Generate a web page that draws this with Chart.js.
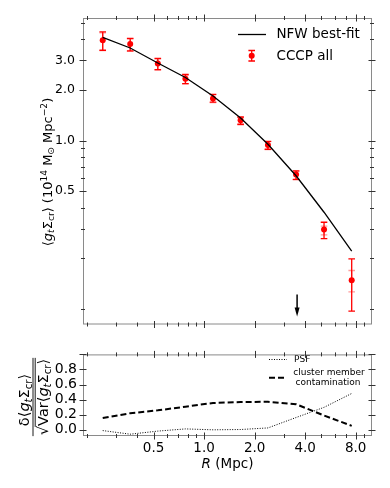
<!DOCTYPE html>
<html>
<head>
<meta charset="utf-8">
<script src="https://cdn.jsdelivr.net/npm/chart.js@4"></script>
<style>
  html, body { margin: 0; padding: 0; background: #fff; }
  canvas { position: absolute; left: 0; }
  #topChart { top: 0; }
  #botChart { top: 340px; }
</style>
</head>
<body>
<canvas id="topChart" width="390" height="340"></canvas>
<canvas id="botChart" width="390" height="148"></canvas>
<script>
// bin centres (Mpc)
const radius = [0.249, 0.363, 0.53, 0.774, 1.13, 1.65, 2.40, 3.53, 5.18, 7.57];
// stacked shear profile, CCCP all
const shear   = [3.94, 3.75, 2.87, 2.33, 1.78, 1.32, 0.942, 0.629, 0.296, 0.148];
const errHi   = [4.43, 4.05, 3.08, 2.47, 1.88, 1.38, 0.99, 0.661, 0.327, 0.198];
const errLo   = [3.44, 3.41, 2.64, 2.18, 1.69, 1.25, 0.888, 0.588, 0.261, 0.097];
// second (lighter) error estimate
const sysHi   = [4.36, 4.01, 3.05, 2.45, 1.87, 1.37, 0.985, 0.657, 0.31, 0.169];
const sysLo   = [3.42, 3.39, 2.62, 2.17, 1.68, 1.24, 0.884, 0.585, 0.275, 0.126];
// NFW best fit
const nfw     = [4.10, 3.55, 2.89, 2.37, 1.84, 1.36, 0.95, 0.618, 0.375, 0.220];
// arrow marker (R, y from -> to)
const arrowR = 3.58, arrowFrom = 0.1215, arrowTo = 0.090;
// lower panel: systematics relative to scatter
const psf     = [-0.01, -0.058, -0.017, 0.012, 0.0, 0.004, 0.025, 0.163, 0.298, 0.482];
const contam  = [0.156, 0.22, 0.258, 0.307, 0.356, 0.368, 0.372, 0.339, 0.19, 0.053];

const xLabels = [0.5, 1, 2, 4, 8];
const xMinor = [0.2, 0.3, 0.4, 0.6, 0.7, 0.8, 0.9, 3, 5, 6, 7, 9];
const yTopLabels = [0.5, 1, 2, 3];
const yTopMinor = [0.1, 0.2, 0.3, 0.4, 0.6, 0.7, 0.8, 0.9, 4, 5];
const yBotLabels = [0, 0.2, 0.4, 0.6, 0.8];

Chart.defaults.font.family = "'DejaVu Sans', sans-serif";
Chart.defaults.color = '#000';

const FONT = "'DejaVu Sans', sans-serif";

// draw a run of text pieces (normal / italic / sub / sup)
function setFont(ctx, s, size) {
  const small = s.includes('sub') || s.includes('sup');
  ctx.font = (s.startsWith('i') ? 'italic ' : '') + (small ? size * 0.7 : size) + 'px ' + FONT;
}
function richWidth(ctx, parts, size) {
  let w = 0;
  parts.forEach(([t, s]) => { setFont(ctx, s, size); w += ctx.measureText(t).width; });
  return w;
}
function drawRich(ctx, parts, x, y, size) {
  let cx = x;
  parts.forEach(([t, s]) => {
    setFont(ctx, s, size);
    let dy = 0;
    if (s.includes('sub')) dy = size * 0.22;
    if (s.includes('sup')) dy = -size * 0.38;
    ctx.fillText(t, cx, y + dy);
    cx += ctx.measureText(t).width;
  });
  return cx;
}

// frame + matplotlib style ticks on all four sides
function frameTicks(xMaj, xMin, yMaj, yMin) {
  return {
    id: 'frameTicks',
    afterDraw(chart) {
      const { ctx, chartArea: a, scales: { x, y } } = chart;
      ctx.save();
      ctx.strokeStyle = '#8a8a8a';
      ctx.lineWidth = 1;
      ctx.strokeRect(a.left + 0.5, a.top + 0.5, a.right - a.left - 1, a.bottom - a.top - 1);
      ctx.strokeStyle = '#333';
      const xt = (v, L) => {
        const p = Math.round(x.getPixelForValue(v)) + 0.5;
        if (p < a.left || p > a.right) return;
        ctx.beginPath();
        ctx.moveTo(p, a.bottom - L); ctx.lineTo(p, a.bottom + L);
        ctx.moveTo(p, a.top - L); ctx.lineTo(p, a.top + L);
        ctx.stroke();
      };
      const yt = (v, L) => {
        const p = Math.round(y.getPixelForValue(v)) + 0.5;
        if (p < a.top || p > a.bottom) return;
        ctx.beginPath();
        ctx.moveTo(a.left - L, p); ctx.lineTo(a.left + L, p);
        ctx.moveTo(a.right - L, p); ctx.lineTo(a.right + L, p);
        ctx.stroke();
      };
      xMaj.forEach(v => xt(v, 3.5)); xMin.forEach(v => xt(v, 2));
      yMaj.forEach(v => yt(v, 3.5)); yMin.forEach(v => yt(v, 2));
      ctx.restore();
    }
  };
}

const G = [['⟨', ''], ['g', 'i'], ['t', 'isub'], ['Σ', ''], ['cr', 'sub'], ['⟩', '']];

const topDecor = {
  id: 'topDecor',
  beforeDatasetsDraw(chart) {
    const { ctx, scales: { x, y } } = chart;
    ctx.save();
    ctx.lineWidth = 1.3;
    const bar = (px, hi, lo, color) => {
      ctx.strokeStyle = color;
      ctx.beginPath();
      ctx.moveTo(px, hi); ctx.lineTo(px, lo);
      ctx.moveTo(px - 3.3, hi); ctx.lineTo(px + 3.3, hi);
      ctx.moveTo(px - 3.3, lo); ctx.lineTo(px + 3.3, lo);
      ctx.stroke();
    };
    radius.forEach((r, i) => {
      const px = x.getPixelForValue(r);
      bar(px, y.getPixelForValue(sysHi[i]), y.getPixelForValue(sysLo[i]), 'rgba(255,60,60,0.5)');
      bar(px, y.getPixelForValue(errHi[i]), y.getPixelForValue(errLo[i]), '#ff0000');
    });
    ctx.restore();
  },
  afterDraw(chart) {
    const { ctx, scales: { x, y } } = chart;
    ctx.save();
    // arrow
    const ax = x.getPixelForValue(arrowR);
    const a0 = y.getPixelForValue(arrowFrom), a1 = y.getPixelForValue(arrowTo);
    ctx.strokeStyle = '#000'; ctx.fillStyle = '#000'; ctx.lineWidth = 1.5;
    ctx.beginPath(); ctx.moveTo(ax, a0); ctx.lineTo(ax, a1 - 8); ctx.stroke();
    ctx.beginPath(); ctx.moveTo(ax - 2.5, a1 - 9); ctx.lineTo(ax + 2.5, a1 - 9); ctx.lineTo(ax, a1); ctx.closePath(); ctx.fill();
    // legend
    ctx.lineWidth = 1.3;
    ctx.beginPath(); ctx.moveTo(238, 34.5); ctx.lineTo(266, 34.5); ctx.stroke();
    ctx.strokeStyle = '#ff0000'; ctx.fillStyle = '#ff0000';
    ctx.beginPath();
    ctx.moveTo(251.7, 50.5); ctx.lineTo(251.7, 61);
    ctx.moveTo(248.4, 50.5); ctx.lineTo(255, 50.5);
    ctx.moveTo(248.4, 61); ctx.lineTo(255, 61);
    ctx.stroke();
    ctx.beginPath(); ctx.arc(251.7, 55.7, 3, 0, Math.PI * 2); ctx.fill();
    ctx.fillStyle = '#000';
    ctx.textBaseline = 'middle';
    ctx.font = '13.5px ' + FONT;
    ctx.fillText('NFW best-fit', 276.5, 34.5);
    ctx.fillText('CCCP all', 276.5, 56);
    // y title
    ctx.translate(51.5, 172);
    ctx.rotate(-Math.PI / 2);
    ctx.textBaseline = 'alphabetic';
    const parts = G.concat([[' (10', ''], ['14', 'sup'], [' M', ''], ['⊙', 'sub'], [' Mpc', ''], ['−2', 'sup'], [')', '']]);
    const w = richWidth(ctx, parts, 13);
    drawRich(ctx, parts, -w / 2, 0, 13);
    ctx.restore();
  }
};

const botDecor = {
  id: 'botDecor',
  afterDraw(chart) {
    const { ctx } = chart;
    ctx.save();
    ctx.fillStyle = '#000'; ctx.strokeStyle = '#000';
    // legend
    ctx.lineWidth = 1;
    ctx.setLineDash([1, 1.5]);
    ctx.beginPath(); ctx.moveTo(269, 19.5); ctx.lineTo(287, 19.5); ctx.stroke();
    ctx.lineWidth = 2;
    ctx.setLineDash([6, 3]);
    ctx.beginPath(); ctx.moveTo(269, 37.7); ctx.lineTo(287, 37.7); ctx.stroke();
    ctx.setLineDash([]);
    ctx.font = '9px ' + FONT;
    ctx.textBaseline = 'middle';
    ctx.fillText('PSF', 294, 19.5);
    ctx.textAlign = 'center';
    ctx.fillText('cluster member', 329, 32.7);
    ctx.fillText('contamination', 328, 42.3);
    // x title
    ctx.textAlign = 'left';
    ctx.textBaseline = 'middle';
    const xp = [['R', 'i'], [' (Mpc)', '']];
    const xw = richWidth(ctx, xp, 13.5);
    drawRich(ctx, xp, 227.5 - xw / 2, 124, 13.5);
    // y title (fraction)
    ctx.translate(33, 57);
    ctx.rotate(-Math.PI / 2);
    ctx.textBaseline = 'alphabetic';
    const size = 14.5;
    const num = [['δ', '']].concat(G);
    const nw = richWidth(ctx, num, size);
    drawRich(ctx, num, -nw / 2 - 3, -4, size);
    const den = [['Var', '']].concat(G);
    const dw = richWidth(ctx, den, size);
    ctx.font = size + 'px ' + FONT;
    const sw = ctx.measureText('√').width;
    const start = -(dw + sw) / 2;
    ctx.fillText('√', start, 14.5);
    drawRich(ctx, den, start + sw, 14.5, size);
    ctx.lineWidth = 0.9;
    ctx.beginPath();
    ctx.moveTo(start - 1, 0); ctx.lineTo(start + sw + dw + 1, 0);
    ctx.moveTo(start + sw - 1, 2.2); ctx.lineTo(start + sw + dw + 1, 2.2);
    ctx.stroke();
    ctx.restore();
  }
};

const xy = (xs, ys) => xs.map((v, i) => ({ x: v, y: ys[i] }));

// upper panel
new Chart(document.getElementById('topChart'), {
  type: 'scatter',
  data: {
    datasets: [
      { label: 'NFW best-fit', data: xy(radius, nfw), showLine: true, borderColor: '#000', borderWidth: 1.3, pointRadius: 0 },
      { label: 'CCCP all', data: xy(radius, shear), backgroundColor: '#ff0000', borderColor: '#ff0000', pointRadius: 3, borderWidth: 0 }
    ]
  },
  options: {
    responsive: false,
    animation: false,
    layout: { padding: { top: 18, right: 18, left: 0, bottom: 0 } },
    plugins: { legend: { display: false }, tooltip: { enabled: false } },
    scales: {
      x: {
        type: 'logarithmic', min: 0.19, max: 10,
        grid: { display: false, drawTicks: false }, border: { display: false },
        ticks: { display: false },
        afterFit: s => { s.height = 14; }
      },
      y: {
        type: 'logarithmic', min: 0.0807, max: 5.35,
        grid: { display: false, drawTicks: false }, border: { display: false },
        afterBuildTicks: s => { s.ticks = yTopLabels.map(v => ({ value: v })); },
        ticks: { autoSkip: false, padding: 8, font: { size: 12.5 }, callback: v => Number(v).toFixed(1) },
        afterFit: s => { s.width = 83; }
      }
    }
  },
  plugins: [topDecor, frameTicks(xLabels, xMinor, yTopLabels, yTopMinor)]
});

// lower panel
new Chart(document.getElementById('botChart'), {
  type: 'scatter',
  data: {
    datasets: [
      { label: 'PSF', data: xy(radius, psf), showLine: true, borderColor: '#000', borderWidth: 1, borderDash: [1, 1.5], pointRadius: 0 },
      { label: 'cluster member contamination', data: xy(radius, contam), showLine: true, borderColor: '#000', borderWidth: 2, borderDash: [6, 3], pointRadius: 0 }
    ]
  },
  options: {
    responsive: false,
    animation: false,
    layout: { padding: { top: 7, right: 18, left: 0, bottom: 0 } },
    plugins: { legend: { display: false }, tooltip: { enabled: false } },
    scales: {
      x: {
        type: 'logarithmic', min: 0.19, max: 10,
        grid: { display: false, drawTicks: false }, border: { display: false },
        afterBuildTicks: s => { s.ticks = xLabels.map(v => ({ value: v })); },
        ticks: { autoSkip: false, maxRotation: 0, padding: 4, font: { size: 13.5 }, callback: v => Number(v).toFixed(1) },
        afterFit: s => { s.height = 52; }
      },
      y: {
        min: -0.082, max: 1.0,
        grid: { display: false, drawTicks: false }, border: { display: false },
        afterBuildTicks: s => { s.ticks = yBotLabels.map(v => ({ value: v })); },
        ticks: { autoSkip: false, padding: 6, font: { size: 14 }, callback: v => Number(v).toFixed(1) },
        afterFit: s => { s.width = 83; }
      }
    }
  },
  plugins: [botDecor, frameTicks(xLabels, xMinor, [0, 0.2, 0.4, 0.6, 0.8, 1.0], [])]
});
</script>
</body>
</html>
